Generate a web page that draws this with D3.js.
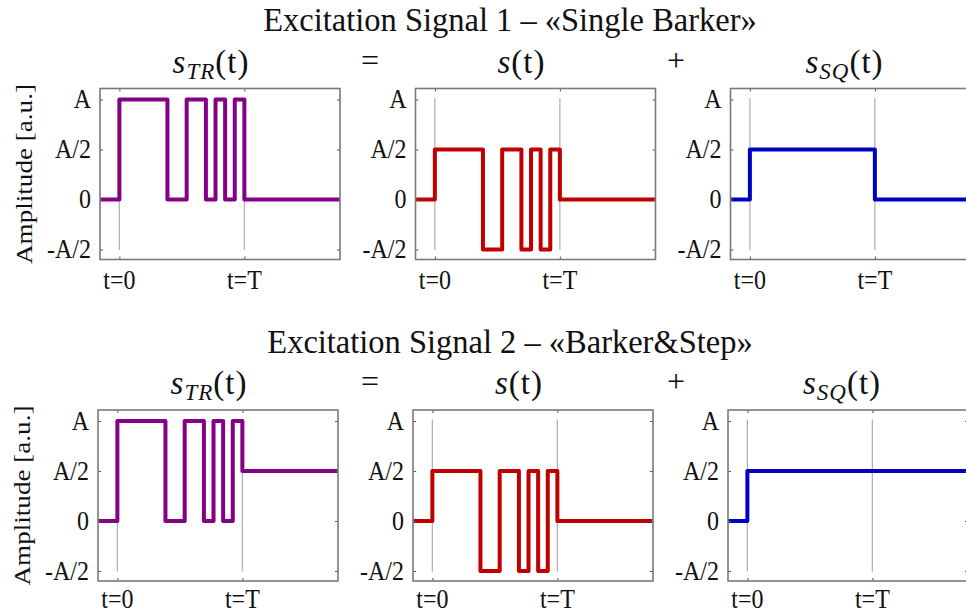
<!DOCTYPE html>
<html>
<head>
<meta charset="utf-8">
<script src="https://cdn.jsdelivr.net/npm/d3@7"></script>
<style>
  html, body { margin: 0; padding: 0; background: #fff; }
  svg { display: block; font-family: "Liberation Serif", "Times New Roman", serif; }
</style>
</head>
<body>
<svg id="chart" width="966" height="614"></svg>
<script>
// 13-chip Barker code (sign of each chip)
const barkerChips = [1, 1, 1, 1, 1, -1, -1, 1, 1, -1, 1, -1, 1];
// s(t) swings between +A/2 and -A/2
const chipAmplitude = 0.5;
// square component s_SQ(t): level during [0, T] and level after T, per excitation signal
const squareDuring = [0.5, 0.5];
const squareAfter = [0, 0.5];

const rowTitles = [
  "Excitation Signal 1 \u2013 \u00abSingle Barker\u00bb",
  "Excitation Signal 2 \u2013 \u00abBarker&Step\u00bb"
];
const yTickValues = [-0.5, 0, 0.5, 1];
const yTickLabels = ["-A/2", "0", "A/2", "A"];
const xTickValues = [0, 1];
const xTickLabels = ["t=0", "t=T"];
const panelKinds = ["tr", "s", "sq"];
const panelColors = { tr: "#840084", s: "#c00000", sq: "#0000c0" };

const xDomain = [-0.155, 1.765];
const yDomain = [-0.6, 1.11];

const svg = d3.select("#chart");
const W = 240, H = 171;
const rowTop = [88.5, 410];
const rowLefts = [[100, 415.5, 730.5], [98, 413, 728]];
const xLabelDrop = [29.5, 27];
const labelCenter = [111, 106, 114];
const TEXT_COLOR = "#111";
const STRETCH = 1.13;

const x = d3.scaleLinear().domain(xDomain).range([0, W]);
const y = d3.scaleLinear().domain(yDomain).range([H, 0]);

// Text with a slightly tall glyph shape (vertical stretch about its baseline)
function addText(parent, tx, ty, str, size, anchor, stretch = STRETCH) {
  return parent.append("text")
    .attr("transform", `translate(${tx},${ty}) scale(1,${stretch})`)
    .attr("text-anchor", anchor)
    .attr("font-size", size)
    .attr("fill", TEXT_COLOR)
    .text(str);
}

// Build [t, value] step points for one panel
function buildSeries(kind, row) {
  const n = barkerChips.length;
  const pts = [[xDomain[0], 0]];
  barkerChips.forEach((c, i) => {
    const sVal = c * chipAmplitude;
    const sqVal = squareDuring[row];
    const v = kind === "s" ? sVal : kind === "sq" ? sqVal : sVal + sqVal;
    pts.push([i / n, v]);
  });
  const after = kind === "s" ? 0 : squareAfter[row];
  pts.push([1, after]);
  pts.push([xDomain[1], after]);
  return pts;
}

const line = d3.line()
  .x(d => x(d[0]))
  .y(d => y(d[1]))
  .curve(d3.curveStepAfter);

rowTitles.forEach((title, row) => {
  const top = rowTop[row];

  addText(svg, 510, top - 57.5, title, 32.5, "middle", 1.02);

  // operators between panels
  addText(svg, 370, top - 18, "=", 32, "middle", 1);
  addText(svg, 676, top - 18, "+", 32, "middle", 1);

  panelKinds.forEach((kind, p) => {
    const left = rowLefts[row][p];
    const g = svg.append("g").attr("transform", `translate(${left},${top})`);

    // panel heading: s(t), s_TR(t), s_SQ(t)
    const lbl = svg.append("text")
      .attr("x", left + labelCenter[p])
      .attr("y", top - 16)
      .attr("text-anchor", "middle")
      .attr("font-size", 33)
      .attr("letter-spacing", 1)
      .attr("fill", TEXT_COLOR);
    lbl.append("tspan").attr("font-style", "italic").text("s");
    if (kind !== "s") {
      lbl.append("tspan").attr("font-style", "italic").attr("font-size", 23)
        .attr("dy", 6).text(kind === "tr" ? "TR" : "SQ");
      lbl.append("tspan").attr("dy", -6).text("(t)");
    } else {
      lbl.append("tspan").text("(t)");
    }

    // vertical markers at t=0 and t=T
    g.selectAll("line.mark").data(xTickValues).enter().append("line")
      .attr("class", "mark")
      .attr("x1", d => x(d)).attr("x2", d => x(d))
      .attr("y1", y(1.015)).attr("y2", y(-0.505))
      .attr("stroke", "#b4b4b4").attr("stroke-width", 1.3);

    // signal
    g.append("path")
      .datum(buildSeries(kind, row))
      .attr("d", line)
      .attr("fill", "none")
      .attr("stroke", panelColors[kind])
      .attr("stroke-width", 4)
      .attr("stroke-linejoin", "round");

    // inward ticks on all four sides
    const axL = d3.axisLeft(y).tickValues(yTickValues).tickSize(-3).tickFormat("");
    const axR = d3.axisRight(y).tickValues(yTickValues).tickSize(-3).tickFormat("");
    const axB = d3.axisBottom(x).tickValues(xTickValues).tickSize(-3).tickFormat("");
    const axT = d3.axisTop(x).tickValues(xTickValues).tickSize(-3).tickFormat("");
    const styleAxis = sel => {
      sel.select(".domain").remove();
      sel.selectAll(".tick line").attr("stroke", "#555").attr("stroke-width", 1);
    };
    g.append("g").call(axL).call(styleAxis);
    g.append("g").attr("transform", `translate(${W},0)`).call(axR).call(styleAxis);
    g.append("g").attr("transform", `translate(0,${H})`).call(axB).call(styleAxis);
    g.append("g").call(axT).call(styleAxis);

    // tick labels
    yTickValues.forEach((v, i) => addText(g, -9, y(v) + 8.5, yTickLabels[i], 24, "end"));
    xTickValues.forEach((v, i) => addText(g, x(v), H + xLabelDrop[row], xTickLabels[i], 24, "middle"));

    // frame
    g.append("rect")
      .attr("x", 0).attr("y", 0).attr("width", W).attr("height", H)
      .attr("fill", "none").attr("stroke", "#7a7a7a").attr("stroke-width", 1.6);

    if (p === 0) {
      svg.append("text")
        .attr("transform", `translate(${left - 68},${top + H / 2}) rotate(-90) scale(${STRETCH},1)`)
        .attr("text-anchor", "middle")
        .attr("font-size", 24)
        .attr("fill", TEXT_COLOR)
        .text("Amplitude [a.u.]");
    }
  });
});
</script>
</body>
</html>
